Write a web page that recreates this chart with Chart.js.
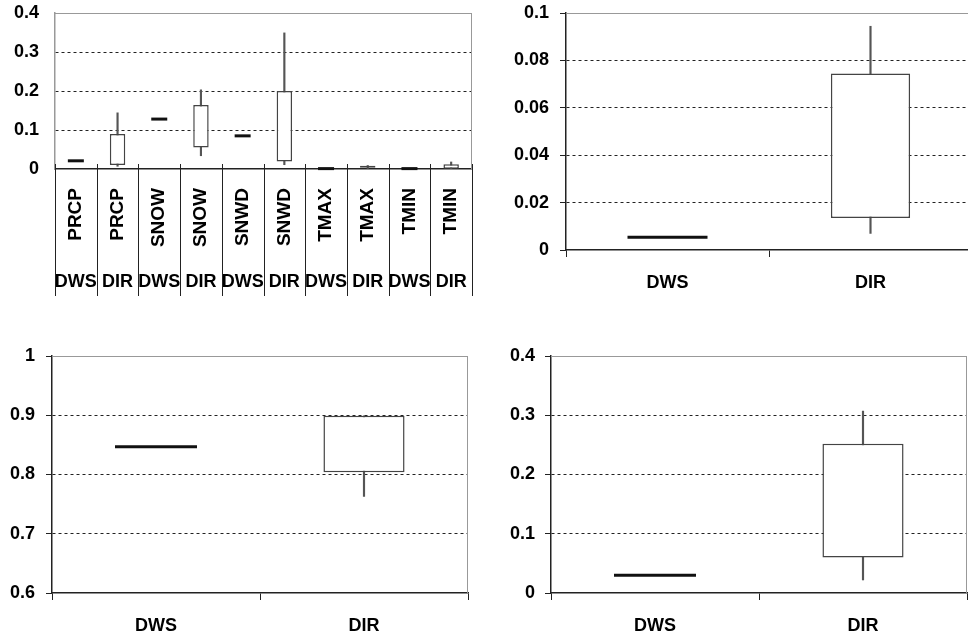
<!DOCTYPE html>
<html>
<head>
<meta charset="utf-8">
<title>DWS vs DIR</title>
<script src="https://cdn.jsdelivr.net/npm/chart.js@4.4.1/dist/chart.umd.min.js"></script>
<style>
  html, body { margin: 0; padding: 0; background: #fff; }
  #wrap { position: relative; width: 968px; height: 641px; overflow: hidden; background: #fff; }
  canvas { position: absolute; }
</style>
</head>
<body>
<div id="wrap">
  <canvas id="chart1" width="484" height="300" style="left:0;top:0"></canvas>
  <canvas id="chart2" width="492" height="300" style="left:484px;top:0"></canvas>
  <canvas id="chart3" width="484" height="321" style="left:0;top:320px"></canvas>
  <canvas id="chart4" width="484" height="321" style="left:484px;top:320px"></canvas>
</div>
<script>
// top-left: each variable, DWS vs DIR
const p1Variables = ["PRCP", "PRCP", "SNOW", "SNOW", "SNWD", "SNWD", "TMAX", "TMAX", "TMIN", "TMIN"];
const p1Sources = ["DWS", "DIR", "DWS", "DIR", "DWS", "DIR", "DWS", "DIR", "DWS", "DIR"];
const p1Low = [0.021, 0.007, 0.128, 0.034, 0.085, 0.011, 0.001, 0.0, 0.001, 0.0005];
const p1BoxLow = [0.021, 0.010, 0.128, 0.055, 0.085, 0.019, 0.001, 0.003, 0.001, 0.0005];
const p1BoxHigh = [0.021, 0.090, 0.128, 0.164, 0.085, 0.200, 0.001, 0.005, 0.001, 0.012];
const p1High = [0.021, 0.144, 0.128, 0.203, 0.085, 0.349, 0.001, 0.009, 0.001, 0.018];
const p1YTicks = [0, 0.4, 0.1]; // min, max, step

// other panels: DWS vs DIR
const pairSources = ["DWS", "DIR"];

const p2Low = [0.0054, 0.007];
const p2BoxLow = [0.0054, 0.0135];
const p2BoxHigh = [0.0054, 0.0745];
const p2High = [0.0054, 0.0944];
const p2YTicks = [0, 0.1, 0.02];

const p3Low = [0.847, 0.763];
const p3BoxLow = [0.847, 0.804];
const p3BoxHigh = [0.847, 0.899];
const p3High = [0.847, 0.899];
const p3YTicks = [0.6, 1, 0.1];

const p4Low = [0.03, 0.022];
const p4BoxLow = [0.03, 0.06];
const p4BoxHigh = [0.03, 0.252];
const p4High = [0.03, 0.307];
const p4YTicks = [0, 0.4, 0.1];

Chart.defaults.font.family = "'Liberation Sans', Arial, sans-serif";
Chart.defaults.font.size = 18;
Chart.defaults.font.weight = "bold";
Chart.defaults.color = "#000";

// plot area border (top/right) and the category dividers of the first panel
const frame = {
  id: "frame",
  beforeDatasetsDraw(chart) {
    const { ctx, chartArea: a } = chart;
    ctx.save();
    ctx.strokeStyle = "#999";
    ctx.lineWidth = 1;
    ctx.beginPath();
    ctx.moveTo(a.left, Math.round(a.top) + 0.5);
    ctx.lineTo(a.right, Math.round(a.top) + 0.5);
    ctx.moveTo(Math.round(a.right) - 0.5, a.top);
    ctx.lineTo(Math.round(a.right) - 0.5, a.bottom);
    ctx.stroke();
    ctx.restore();
  },
  afterDraw(chart, args, opts) {
    if (!opts.dividers) return;
    const { ctx, chartArea: a } = chart;
    const xs = chart.scales.x;
    const bottom = chart.scales.x2.bottom;
    ctx.save();
    ctx.strokeStyle = "#222";
    ctx.lineWidth = 1;
    ctx.beginPath();
    for (let i = 0; i <= xs.getLabels().length; i++) {
      const px = Math.round(xs.getPixelForValue(i - 0.5)) + 0.5;
      ctx.moveTo(px, a.bottom - 5);
      ctx.lineTo(px, bottom);
    }
    ctx.stroke();
    ctx.restore();
  },
};

function boxDatasets(low, boxLow, boxHigh, high, boxPct, flatRadius) {
  return [
    {
      // flat boxes drawn as a thick line
      type: "line",
      data: boxLow.map((v, i) => (v === boxHigh[i] ? v : null)),
      showLine: false,
      pointStyle: "line",
      pointRadius: flatRadius,
      pointBorderWidth: 3,
      pointBorderColor: "#111",
      clip: false,
      order: 0,
    },
    {
      data: boxLow.map((v, i) => (v === boxHigh[i] ? null : [v, boxHigh[i]])),
      backgroundColor: "#fff",
      borderColor: "#444",
      borderWidth: 1.5,
      borderSkipped: false,
      minBarLength: 2,
      grouped: false,
      categoryPercentage: 1,
      barPercentage: boxPct,
      order: 1,
    },
    {
      data: low.map((v, i) => [v, high[i]]),
      backgroundColor: "#555",
      barThickness: 1.5,
      grouped: false,
      order: 2,
    },
  ];
}

// fixed axis sizes; label overflow is left to the layout padding
function fixWidth(width) {
  return (s) => { s.width = width; s.paddingTop = 0; s.paddingBottom = 0; };
}
function fixHeight(height) {
  return (s) => { s.height = height; s.paddingLeft = 0; s.paddingRight = 0; };
}

function yScale([min, max, step], width, tickLen, pad, borderColor) {
  const edge = (v) => Math.abs(v - max) < 1e-9 || Math.abs(v - min) < 1e-9;
  return {
    min: min,
    max: max,
    afterFit: fixWidth(width),
    ticks: { stepSize: step, padding: pad, callback: (v) => String(+v.toFixed(3)) },
    grid: {
      color: (c) => (c.tick && edge(c.tick.value) ? "transparent" : "#222"),
      drawTicks: tickLen > 0,
      tickLength: tickLen,
      tickColor: "#222",
    },
    border: { color: borderColor, width: 1.5, dash: [3, 3] },
  };
}

function pairXScale() {
  return {
    afterFit: fixHeight(46),
    ticks: { padding: 15, maxRotation: 0 },
    grid: { offset: true, drawOnChartArea: false, tickLength: 7, color: "#222" },
    border: { color: "#222", width: 1.5 },
  };
}

function drawBoxChart(id, labels, datasets, padding, scales, dividers) {
  const ctx = document.getElementById(id).getContext("2d");
  return new Chart(ctx, {
    type: "bar",
    data: { labels: labels, datasets: datasets },
    options: {
      responsive: false,
      animation: false,
      events: [],
      layout: { padding: padding, autoPadding: false },
      plugins: {
        legend: { display: false },
        tooltip: { enabled: false },
        frame: { dividers: dividers },
      },
      scales: scales,
    },
    plugins: [frame],
  });
}

// panel 1
drawBoxChart(
  "chart1",
  p1Variables,
  boxDatasets(p1Low, p1BoxLow, p1BoxHigh, p1High, 0.37, 8),
  { left: 0, top: 13, right: 12, bottom: 4 },
  {
    x: {
      afterFit: fixHeight(88),
      ticks: { minRotation: 90, maxRotation: 90, padding: 19, autoSkip: false, font: { size: 19 } },
      grid: { display: false, drawTicks: false },
      border: { color: "#222", width: 1.5 },
    },
    x2: {
      type: "category",
      labels: p1Sources,
      position: "bottom",
      weight: 1,
      offset: true,
      afterFit: fixHeight(39),
      ticks: { padding: 14, maxRotation: 0, autoSkip: false },
      grid: { display: false, drawTicks: false },
      border: { display: false },
    },
    y: yScale(p1YTicks, 55, 0, 16, "#999"),
  },
  true
);

// panel 2
drawBoxChart(
  "chart2",
  pairSources,
  boxDatasets(p2Low, p2BoxLow, p2BoxHigh, p2High, 0.39, 40),
  { left: 0, top: 13, right: 4, bottom: 4 },
  { x: pairXScale(), y: yScale(p2YTicks, 82, 6, 11, "#222") },
  false
);

// panel 3
drawBoxChart(
  "chart3",
  pairSources,
  boxDatasets(p3Low, p3BoxLow, p3BoxHigh, p3High, 0.39, 41),
  { left: 0, top: 36, right: 16, bottom: 2 },
  { x: pairXScale(), y: yScale(p3YTicks, 52, 6, 11, "#222") },
  false
);

// panel 4
drawBoxChart(
  "chart4",
  pairSources,
  boxDatasets(p4Low, p4BoxLow, p4BoxHigh, p4High, 0.39, 41),
  { left: 0, top: 36, right: 1, bottom: 2 },
  { x: pairXScale(), y: yScale(p4YTicks, 67, 6, 10, "#222") },
  false
);
</script>
</body>
</html>
